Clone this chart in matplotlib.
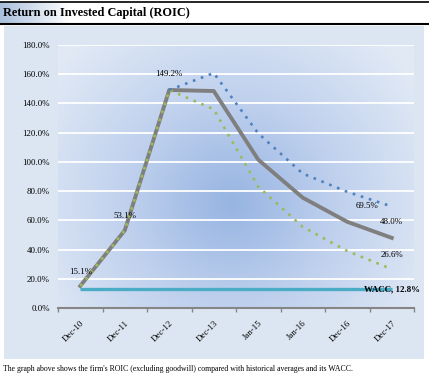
import numpy as np
import matplotlib
matplotlib.use("Agg")
import matplotlib.pyplot as plt
from matplotlib.patches import Rectangle
from matplotlib.colors import LinearSegmentedColormap

categories = ["Dec-10", "Dec-11", "Dec-12", "Dec-13", "Jan-15", "Jan-16", "Dec-16", "Dec-17"]
roic = [15.1, 53.1, 149.2, 148.5, 101.5, 75.5, 59.0, 48.0]
high_avg = [None, None, 149.2, 160.8, 119.5, 92.0, 79.5, 69.5]
low_avg = [15.1, 53.1, 149.2, 136.0, 83.0, 55.5, 39.0, 26.6]
wacc = [12.8] * 8
yticks = [0, 20, 40, 60, 80, 100, 120, 140, 160, 180]

plt.rcParams['font.family'] = ['Liberation Serif', 'DejaVu Serif']

W, H = 429, 377
fig = plt.figure(figsize=(W / 100, H / 100), dpi=100)
fig.patch.set_facecolor("white")

# background layer
bg = fig.add_axes([0, 0, 1, 1])
bg.set_xlim(0, W)
bg.set_ylim(H, 0)
bg.axis("off")
grad = np.linspace(0, 1, 200)[None, :]
tcm = LinearSegmentedColormap.from_list("t", ["#a9bfdc", "#ffffff"])
bg.imshow(grad, extent=(0, 70, 24, 2), cmap=tcm, aspect="auto", zorder=0)
bg.plot([0, W], [1.5, 1.5], color="black", lw=1.2)
bg.plot([0, W], [24, 24], color="black", lw=1.5)
bg.add_patch(Rectangle((4, 26), 420, 333, facecolor="#dce6f2", edgecolor="none", zorder=0))
bg.text(3, 13, "Return on Invested Capital (ROIC)", fontsize=8.8, fontweight="bold",
        va="center", ha="left", color="black")
bg.text(3, 369, "The graph above shows the firm's ROIC (excluding goodwill) compared with historical averages and its WACC.",
        fontsize=5.6, va="center", ha="left", color="black")

# main plot
left, right, top, bottom = 58, 414, 45, 308
ax = fig.add_axes([left / W, 1 - bottom / H, (right - left) / W, (bottom - top) / H])
ax.set_xlim(-0.5, 7.5)
ax.set_ylim(0, 180)
ax.set_facecolor("none")

nx, ny = 300, 220
gx = np.linspace(-0.5, 7.5, nx)
gy = np.linspace(180, 0, ny)
X, Y = np.meshgrid(gx, gy)
cx, cy = 3.4, 72
d = np.sqrt(((X - cx) / 5.0) ** 2 + ((Y - cy) / 150.0) ** 2)
d = np.clip(d, 0, 1)
gcm = LinearSegmentedColormap.from_list("g", ["#97b4e2", "#c1d2ee", "#e1e9f5"])
ax.imshow(d, extent=(-0.5, 7.5, 0, 180), cmap=gcm, aspect="auto", zorder=0, vmin=0, vmax=1)

for yv in yticks[1:]:
    ax.axhline(yv, color="white", lw=1.3, zorder=1)

x = np.arange(len(categories))
ax.plot(x, wacc, color="#4bacc6", lw=2.4, zorder=2, solid_capstyle="butt")
ax.plot(x, roic, color="#7f7f7f", lw=2.8, zorder=3)
lx = [i for i, v in enumerate(low_avg) if v is not None]
ax.plot(lx, [low_avg[i] for i in lx], color="#9bbb59", lw=1.9, ls=(0, (1, 2.2)), zorder=4)
hx = [i for i, v in enumerate(high_avg) if v is not None]
ax.plot(hx, [high_avg[i] for i in hx], color="#4f81bd", lw=1.9, ls=(0, (1, 2.2)), zorder=4)

fs = 6.4
def lab(xi, yi, txt, dx, dy, bold=False):
    ax.annotate(txt, (xi, yi), xytext=(dx, dy), textcoords="offset pixels",
                ha="center", va="center", fontsize=fs, zorder=6,
                fontweight="bold" if bold else "normal")

lab(0, roic[0], "15.1%", 0, 14)
lab(1, roic[1], "53.1%", 0, 14)
lab(2, roic[2], "149.2%", 0, 16)
lab(7, high_avg[7], "69.5%", -25, 0)
lab(7, roic[7], "48.0%", 0, 16)
lab(7, low_avg[7], "26.6%", 0, 14)
lab(7, wacc[7], "WACC, 12.8%", 0, 0, bold=True)

ax.set_yticks(yticks)
ax.set_yticklabels([f"{v:.1f}%" for v in yticks], fontsize=fs)
ax.tick_params(axis="y", length=0, pad=6)
ax.set_xticks(x)
ax.set_xticklabels(categories, rotation=45, ha="right", rotation_mode="anchor", fontsize=fs)
ax.set_xticks(np.arange(-0.5, 8, 1), minor=True)
ax.tick_params(axis="x", which="major", length=0, pad=8)
ax.tick_params(axis="x", which="minor", length=3, color="#868686", width=1)
for s in ["left", "right", "top"]:
    ax.spines[s].set_visible(False)
ax.spines["bottom"].set_color("#868686")
ax.spines["bottom"].set_linewidth(1.5)
ax.spines["bottom"].set_zorder(5)

fig.savefig("out.png", dpi=100)
